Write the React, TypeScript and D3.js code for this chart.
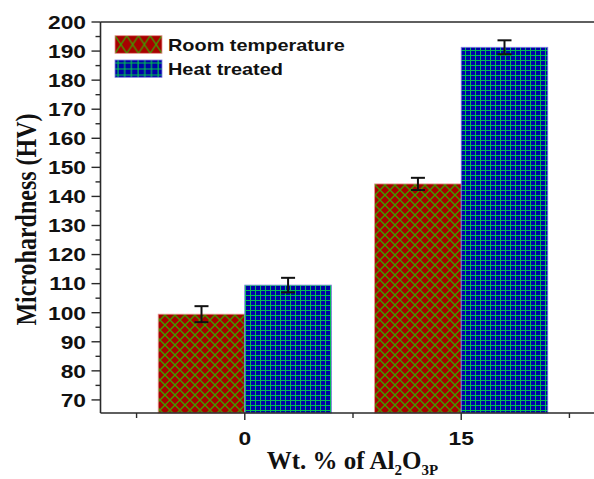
import React from "react";
import * as d3 from "d3";

const categories = [0, 15];
const seriesNames = ["Room temperature", "Heat treated"];
const roomTemp = [99.5, 144.3];
const roomTempErr = [2.75, 2.1];
const heatTreated = [109.5, 191.3];
const heatTreatedErr = [2.5, 2.4];
const yMajorTicks = [70, 80, 90, 100, 110, 120, 130, 140, 150, 160, 170, 180, 190, 200];
const yMinorTicks = [65, 75, 85, 95, 105, 115, 125, 135, 145, 155, 165, 175, 185, 195];
const xMinorTicks = [-7.5, 7.5, 22.5];

const W = 594;
const H = 479;
const x = d3.scaleLinear().domain([-10, 25]).range([100.5, 605.5]);
const y = d3.scaleLinear().domain([65.5, 200]).range([413, 22]);
const barW = 6;

const sansBold = "'Liberation Sans', Arial, sans-serif";
const serifBold = "'Liberation Serif', 'Times New Roman', serif";

export default function App() {
  const axisColor = "#2a2a2a";
  const series = [
    { name: seriesNames[0], vals: roomTemp, errs: roomTempErr, fill: "url(#patRoom)", stroke: "#e89090", offset: -barW },
    { name: seriesNames[1], vals: heatTreated, errs: heatTreatedErr, fill: "url(#patHeat)", stroke: "#8080e0", offset: 0 },
  ];
  return (
    <svg width={W} height={H} style={{ position: "absolute", left: 0, top: 0, background: "#fff" }}>
      <defs>
        <pattern id="patRoom" patternUnits="userSpaceOnUse" width={10} height={10}>
          <rect width={10} height={10} fill="#a80000" />
          <path d="M0,0L10,10M10,0L0,10M-1,9L1,11M9,-1L11,1" stroke="#3f9a00" strokeWidth={1.4} />
        </pattern>
        <pattern id="patHeat" patternUnits="userSpaceOnUse" width={5} height={5}>
          <rect width={5} height={5} fill="#0000a8" />
          <path d="M0.5,0V5M0,0.5H5" stroke="#00c050" strokeWidth={1} />
        </pattern>
        <pattern id="legRoom" patternUnits="userSpaceOnUse" x={115} y={35.7} width={11.75} height={17.6}>
          <rect width={11.75} height={17.6} fill="#a80000" />
          <path d="M0,0L11.75,17.6M11.75,0L0,17.6" stroke="#3f9a00" strokeWidth={1.4} />
        </pattern>
        <pattern id="legHeat" patternUnits="userSpaceOnUse" x={115} y={60} width={6.7} height={6}>
          <rect width={6.7} height={6} fill="#0000a8" />
          <path d="M3,0V6M0,3H6.7" stroke="#00c050" strokeWidth={1.2} />
        </pattern>
      </defs>

      {/* bars */}
      {series.map((s, si) =>
        categories.map((c, i) => (
          <rect
            key={`b${si}-${i}`}
            x={x(c + s.offset)}
            y={y(s.vals[i])}
            width={x(c + s.offset + barW) - x(c + s.offset)}
            height={y(65.5) - y(s.vals[i])}
            fill={s.fill}
            stroke={s.stroke}
            strokeWidth={0.8}
          />
        ))
      )}

      {/* error bars */}
      {series.map((s, si) =>
        categories.map((c, i) => {
          const cx = x(c + s.offset + barW / 2);
          const y1 = y(s.vals[i] + s.errs[i]);
          const y2 = y(s.vals[i] - s.errs[i]);
          return (
            <g key={`e${si}-${i}`} stroke="#111" strokeWidth={2}>
              <line x1={cx} x2={cx} y1={y1} y2={y2} />
              <line x1={cx - 7} x2={cx + 7} y1={y1} y2={y1} />
              <line x1={cx - 7} x2={cx + 7} y1={y2} y2={y2} />
            </g>
          );
        })
      )}

      {/* frame */}
      <line x1={x(-10)} x2={W} y1={y(200)} y2={y(200)} stroke={axisColor} strokeWidth={1.6} />
      <line x1={x(-10)} x2={W} y1={y(65.5)} y2={y(65.5)} stroke={axisColor} strokeWidth={1.6} />
      <line x1={x(-10)} x2={x(-10)} y1={y(200)} y2={y(65.5)} stroke={axisColor} strokeWidth={1.6} />

      {/* y ticks */}
      {yMajorTicks.map((t) => (
        <g key={`ym${t}`}>
          <line x1={x(-10) - 9} x2={x(-10)} y1={y(t)} y2={y(t)} stroke={axisColor} strokeWidth={1.4} />
          <text
            transform={`translate(86,${y(t) + 6.8}) scale(1.2,1)`}
            textAnchor="end"
            fontFamily={sansBold}
            fontWeight="bold"
            fontSize={19}
            fill="#111"
          >
            {t}
          </text>
        </g>
      ))}
      {yMinorTicks.map((t) =>
        t >= 65.5 ? (
          <line key={`yn${t}`} x1={x(-10) - 5} x2={x(-10)} y1={y(t)} y2={y(t)} stroke={axisColor} strokeWidth={1.4} />
        ) : null
      )}

      {/* x ticks */}
      {categories.map((c) => (
        <g key={`xm${c}`}>
          <line x1={x(c)} x2={x(c)} y1={y(65.5)} y2={y(65.5) + 7} stroke={axisColor} strokeWidth={1.4} />
          <text
            transform={`translate(${x(c)},445) scale(1.2,1)`}
            textAnchor="middle"
            fontFamily={sansBold}
            fontWeight="bold"
            fontSize={19}
            fill="#111"
          >
            {c}
          </text>
        </g>
      ))}
      {xMinorTicks.map((t) => (
        <line key={`xn${t}`} x1={x(t)} x2={x(t)} y1={y(65.5)} y2={y(65.5) + 5} stroke={axisColor} strokeWidth={1.4} />
      ))}

      {/* axis titles */}
      <text
        transform="translate(36,219.5) scale(1.2,1) rotate(-90)"
        textAnchor="middle"
        fontFamily={serifBold}
        fontWeight="bold"
        fontSize={24}
        fill="#111"
      >
        Microhardness (HV)
      </text>
      <text x={352.5} y={469} textAnchor="middle" fontFamily={serifBold} fontWeight="bold" fontSize={25} fill="#111">
        Wt. % of Al
        <tspan fontSize={15} dy={6}>2</tspan>
        <tspan dy={-6}>O</tspan>
        <tspan fontSize={15} dy={6}>3P</tspan>
      </text>

      {/* legend */}
      <rect x={115} y={35.7} width={47} height={17.6} fill="url(#legRoom)" stroke="#e89090" strokeWidth={0.8} />
      <rect x={115} y={60} width={47} height={17.3} fill="url(#legHeat)" stroke="#8080e0" strokeWidth={0.8} />
      {seriesNames.map((n, i) => (
        <text
          key={n}
          transform={`translate(168,${50.7 + i * 24.3}) scale(1.17,1)`}
          fontFamily={sansBold}
          fontWeight="bold"
          fontSize={17}
          fill="#111"
        >
          {n}
        </text>
      ))}
    </svg>
  );
}
